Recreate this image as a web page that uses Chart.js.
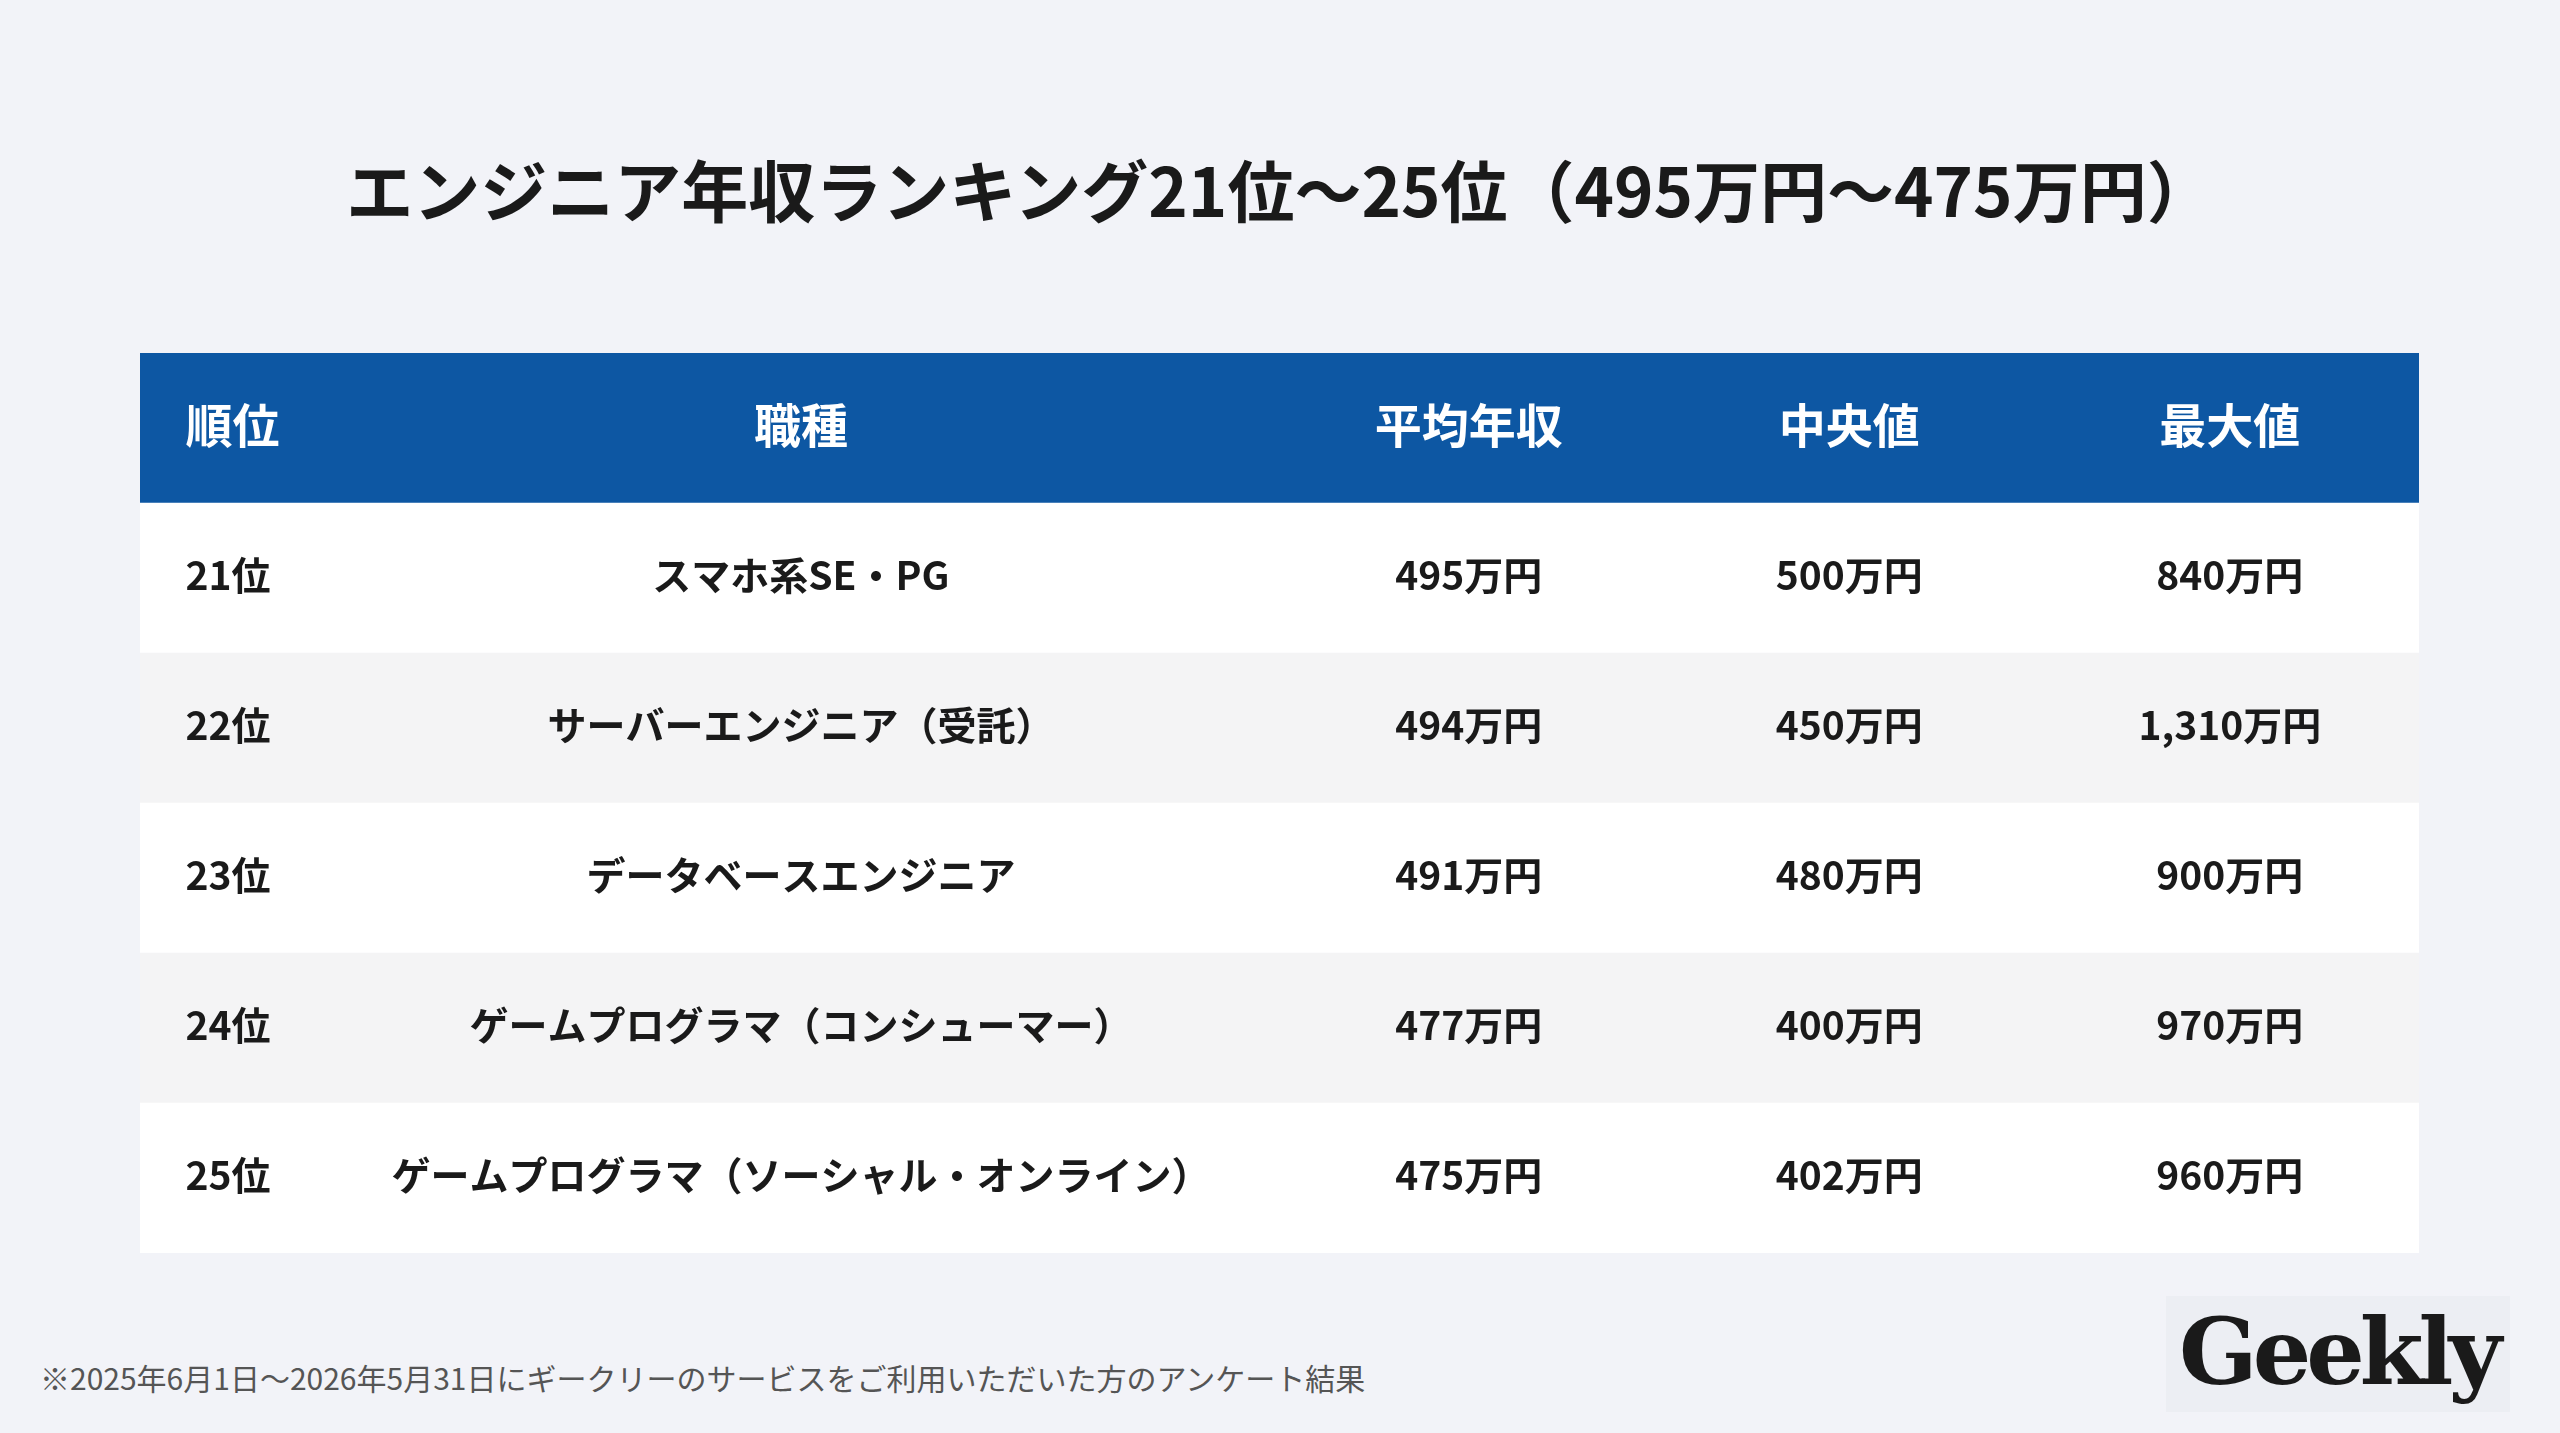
<!DOCTYPE html>
<html><head><meta charset="utf-8">
<script src="https://cdn.jsdelivr.net/npm/chart.js@4"></script>
<style>
html,body{margin:0;padding:0;background:#f2f3f8;width:2560px;height:1433px;overflow:hidden;font-family:"Noto Sans CJK JP",sans-serif}
#title{position:absolute;left:0;width:2560px;top:139px;text-align:center;font-size:67px;font-weight:700;color:#1a1a1a}
#note{position:absolute;left:40px;top:1355px;font-size:30px;color:#555}
#logo{position:absolute;left:2166px;top:1296px;width:344px;height:116px;background:#eceef3;font-family:"DejaVu Serif",serif;font-weight:700;font-size:92px;line-height:112px;text-align:center;color:#1a1a1a;letter-spacing:-5px}
canvas{position:absolute;left:0;top:0}
</style></head><body>
<div id="title">エンジニア年収ランキング21位〜25位（495万円〜475万円）</div>
<div id="note">※2025年6月1日〜2026年5月31日にギークリーのサービスをご利用いただいた方のアンケート結果</div>
<div id="logo">Geekly</div>
<canvas id="c" width="2560" height="1433"></canvas>
<script>
const headers = ['順位','職種','平均年収','中央値','最大値'];
const ranks = ['21位','22位','23位','24位','25位'];
const jobs = ['スマホ系SE・PG','サーバーエンジニア（受託）','データベースエンジニア','ゲームプログラマ（コンシューマー）','ゲームプログラマ（ソーシャル・オンライン）'];
const avgPay = ['495万円','494万円','491万円','477万円','475万円'];
const medianPay = ['500万円','450万円','480万円','400万円','402万円'];
const maxPay = ['840万円','1,310万円','900万円','970万円','960万円'];
const rowLabels = ['header'].concat(ranks);
const colX = [2.0, 29.0, 58.3, 75.0, 91.7];
const colAlign = ['left','center','center','center','center'];
const rowColors = ['#0d57a3','#ffffff','#f4f4f5','#ffffff','#f4f4f5','#ffffff'];

const cellPlugin = {
  id:'cells',
  afterDatasetsDraw(chart){
    const {ctx, scales:{x,y}} = chart;
    ctx.save();
    ctx.textBaseline='middle';
    const rows=[headers].concat(ranks.map((r,i)=>[r,jobs[i],avgPay[i],medianPay[i],maxPay[i]]));
    rows.forEach((row,ri)=>{
      const py=y.getPixelForValue(ri)-3;
      ctx.fillStyle= ri===0?'#ffffff':'#1a1a1a';
      ctx.font= ri===0?'700 47px "Noto Sans CJK JP"':'700 39px "Noto Sans CJK JP"';
      row.forEach((t,ci)=>{
        ctx.textAlign=colAlign[ci];
        ctx.fillText(t,x.getPixelForValue(colX[ci]),py);
      });
    });
    ctx.restore();
  }
};

new Chart(document.getElementById('c'),{
  type:'bar',
  data:{labels:rowLabels,datasets:[{data:rowLabels.map(()=>[0,100]),backgroundColor:rowColors,borderWidth:0,barPercentage:1,categoryPercentage:1}]},
  options:{
    indexAxis:'y',responsive:false,animation:false,devicePixelRatio:1,
    layout:{padding:{left:140,right:141,top:353,bottom:180}},
    scales:{x:{min:0,max:100,display:false},y:{display:false}},
    plugins:{legend:{display:false},tooltip:{enabled:false}}
  },
  plugins:[cellPlugin]
});
</script>
</body></html>
